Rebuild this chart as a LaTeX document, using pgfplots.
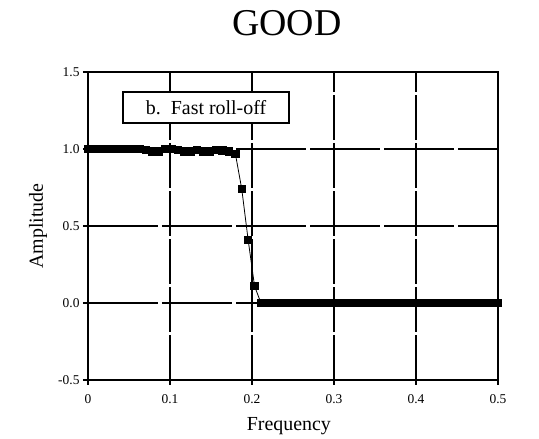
\documentclass[border=0pt]{standalone}
\usepackage{pgfplots}
\pgfplotsset{compat=1.18}
\usepackage{fontspec}
\setmainfont{Liberation Serif}

\begin{document}
\begin{tikzpicture}
	\begin{axis}[
	at={(0,0)}, anchor=south west,
	scale only axis,
	width=410bp, height=308bp,
	xmin=0, xmax=0.5,
	ymin=-0.5, ymax=1.5,
	xtick={0,0.1,0.2,0.3,0.4,0.5},
	ytick={-0.5,0,0.5,1.0,1.5},
	xticklabels={0,0.1,0.2,0.3,0.4,0.5},
	yticklabel style={/pgf/number format/.cd, fixed, fixed zerofill, precision=1},
	xticklabel style={yshift=-6bp},
	/pgf/number format/assume math mode=true,
	tick label style={font=\fontsize{13.5}{15}\selectfont},
	tick align=outside,
	tick pos=left,
	major tick length=5bp,
	tick style={black, line width=1.2bp},
	axis line style={line width=1.4bp},
	xmajorgrids, ymajorgrids,
	x grid style={black, line width=1.3bp, dash pattern=on 45bp off 3bp},
	y grid style={black, line width=2.6bp, dash pattern=on 70bp off 4bp},
	title={GOOD},
	title style={font=\fontsize{38}{42}\selectfont, at={(axis description cs:0.485,1.100)}, anchor=base, yshift=0pt},
	xlabel={Frequency},
	ylabel={Amplitude},
	label style={font=\fontsize{20}{24}\selectfont},
	xlabel style={at={(axis description cs:0.49,-0.15)}, anchor=center},
	ylabel style={at={(axis description cs:-0.122,0.5)}, anchor=center, rotate=0},
	clip=false,
	]
	\addplot [black, line width=0.8bp, mark=square*, mark size=3.7bp, mark options={solid}] coordinates {
		(0.0000,1.000) (0.0078,1.000) (0.0156,1.000) (0.0234,1.000) (0.0313,1.000)
		(0.0391,1.000) (0.0469,1.000) (0.0547,1.000) (0.0625,1.000) (0.0703,0.995)
		(0.0781,0.985) (0.0859,0.985) (0.0938,1.000) (0.1016,1.000) (0.1094,0.995)
		(0.1172,0.985) (0.1250,0.985) (0.1328,0.995) (0.1406,0.985) (0.1484,0.985)
		(0.1563,0.995) (0.1641,0.990) (0.1719,0.985) (0.1797,0.970) (0.1875,0.740)
		(0.1953,0.410) (0.2031,0.110) (0.2109,0.000) (0.2188,0.000) (0.2266,0.000)
		(0.2344,0.000) (0.2422,0.000) (0.2500,0.000) (0.2578,0.000) (0.2656,0.000)
		(0.2734,0.000) (0.2813,0.000) (0.2891,0.000) (0.2969,0.000) (0.3047,0.000)
		(0.3125,0.000) (0.3203,0.000) (0.3281,0.000) (0.3359,0.000) (0.3438,0.000)
		(0.3516,0.000) (0.3594,0.000) (0.3672,0.000) (0.3750,0.000) (0.3828,0.000)
		(0.3906,0.000) (0.3984,0.000) (0.4063,0.000) (0.4141,0.000) (0.4219,0.000)
		(0.4297,0.000) (0.4375,0.000) (0.4453,0.000) (0.4531,0.000) (0.4609,0.000)
		(0.4688,0.000) (0.4766,0.000) (0.4844,0.000) (0.4922,0.000) (0.5000,0.000)
	};
	\node [draw, line width=1.2bp, fill=white, minimum width=166bp, minimum height=31bp,
		inner sep=0pt, font=\fontsize{20}{24}\selectfont] at (axis cs:0.144,1.27) {b.~~Fast roll-off};
	\end{axis}
	\path [use as bounding box] (-88bp,-57bp) rectangle (451bp,380bp);
\end{tikzpicture}
\end{document}
